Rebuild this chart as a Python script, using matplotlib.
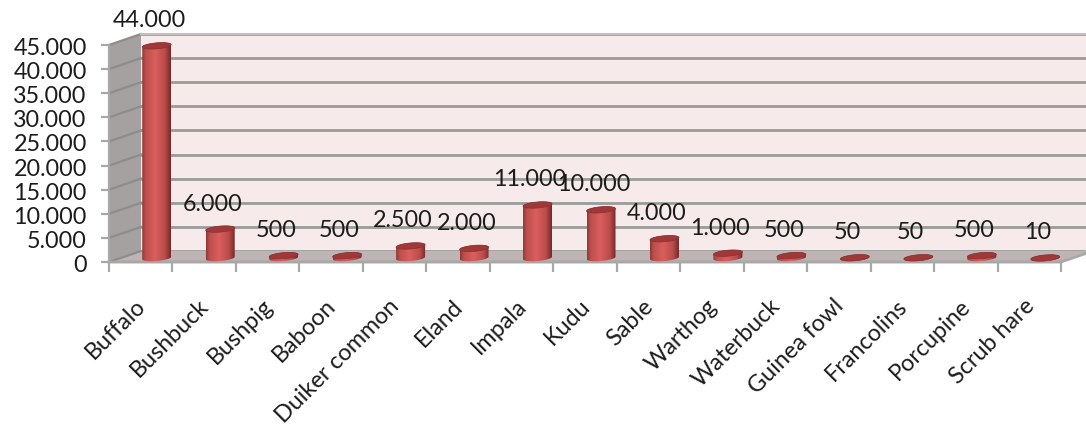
import numpy as np
import matplotlib
matplotlib.use("Agg")
import matplotlib.pyplot as plt
from matplotlib.colors import LinearSegmentedColormap
from matplotlib.patches import Polygon
from matplotlib.ticker import FuncFormatter
from matplotlib.transforms import ScaledTranslation

categories = ["Buffalo", "Bushbuck", "Bushpig", "Baboon", "Duiker common", "Eland", "Impala",
              "Kudu", "Sable", "Warthog", "Waterbuck", "Guinea fowl", "Francolins", "Porcupine", "Scrub hare"]
values = [44000, 6000, 500, 500, 2500, 2000, 11000, 10000, 4000, 1000, 500, 50, 50, 500, 10]
y_ticks = list(range(0, 45001, 5000))

W, H = 1086, 430
plt.rcParams["font.family"] = ["Lato", "DejaVu Sans"]
TXT = "#1c1c1c"
FS = 16.8
GRID = "#9b9b9b"
fig = plt.figure(figsize=(W / 100, H / 100), dpi=100, facecolor="white")


def box(x0, x1, ytop, ybot, **kw):
    return fig.add_axes([x0 / W, 1 - ybot / H, (x1 - x0) / W, (ybot - ytop) / H], **kw)


def fmt(v, _=None):
    return f"{int(v):,}".replace(",", ".")


# background geometry in figure pixels
bg = box(0, W, 0, H)
bg.set_xlim(0, W)
bg.set_ylim(H, 0)
bg.axis("off")
bg.add_patch(Polygon([(141, 34), (1093, 34), (1093, 251), (141, 251)], fc="#f6eaea", ec="none"))
bg.add_patch(Polygon([(109, 45), (141, 34), (141, 251), (109, 262)], fc="#a5a1a1", ec="none"))
bg.add_patch(Polygon([(109, 262), (1061, 262), (1093, 251), (141, 251)], fc="#bfb4b4", ec="none"))

# back wall: same data scale as the front axes, shifted in depth
back = box(141, 1093, 34, 251)
back.patch.set_alpha(0)
back.set_xlim(0, 15)
back.set_ylim(0, 45000)
back.set_xticks([])
back.set_yticks(y_ticks)
back.tick_params(left=False, labelleft=False)
back.grid(axis="y", color=GRID, lw=2.0)
for s in back.spines.values():
    s.set_visible(False)
back.spines["top"].set_visible(True)
back.spines["top"].set_color("#c4c0c0")
back.spines["top"].set_linewidth(1.5)

# slanted grid on side wall
for t in y_ticks:
    yf = 262 - t * 217 / 45000
    bg.plot([109, 141], [yf, yf - 11], color="#8f8c8c", lw=1.6)
bg.plot([109, 1061, 1093], [262, 262, 251], color="#a8a8a8", lw=2, clip_on=True)

# front axis with the real ticks and labels
front = box(109, 1061, 45, 262)
front.patch.set_alpha(0)
front.set_xlim(0, 15)
front.set_ylim(0, 45000)
front.set_yticks(y_ticks)
front.yaxis.set_major_formatter(FuncFormatter(fmt))
front.set_xticks(np.arange(16))
front.set_xticklabels([])
front.set_xticks(np.arange(15) + 0.5, minor=True)
front.set_xticklabels(categories, minor=True, rotation=45, ha="right", va="top",
                      rotation_mode="anchor", fontsize=FS, color=TXT)
front.tick_params(axis="x", which="minor", length=0, pad=24)
front.tick_params(axis="x", which="major", length=7, width=1.6, color="#a8a8a8")
front.tick_params(axis="y", length=6, width=1.6, color="#a8a8a8", labelsize=FS, labelcolor=TXT, pad=10)
shift_x = ScaledTranslation(-6 / 100, 0, fig.dpi_scale_trans)
shift_y = ScaledTranslation(0, -1.5 / 100, fig.dpi_scale_trans)
for lab in front.get_xticklabels(minor=True):
    lab.set_transform(lab.get_transform() + shift_x)
for lab in front.get_yticklabels():
    lab.set_transform(lab.get_transform() + shift_y)
for n, s in front.spines.items():
    s.set_visible(n in ("left", "bottom"))
    s.set_color("#a8a8a8")
    s.set_linewidth(1.6)

# cylinders: same data scale, shifted half way into the depth
bars = box(125, 1077, 41, 258)
bars.patch.set_alpha(0)
bars.axis("off")
bars.set_xlim(0, 15)
bars.set_ylim(0, 45000)
sx = 952 / 15
sy = 217 / 45000
cmap = LinearSegmentedColormap.from_list("cyl", [(0, "#8f3837"), (0.12, "#bd4f4d"), (0.45, "#d95f5d"),
                                                 (0.8, "#bb4c4a"), (1, "#75292a")])
grad = np.linspace(0, 1, 64).reshape(1, -1)
a, b, tilt = 14.5, 3.0, 1.2
tt = np.linspace(0, 2 * np.pi, 73)


def ell(cx, cy, t):
    return np.column_stack([cx + a * np.cos(t) / sx, cy + (b * np.sin(t) + tilt * np.cos(t)) / sy])


for i, v in enumerate(values):
    cx = i + 0.5
    low = ell(cx, 0, np.linspace(np.pi, 2 * np.pi, 37))
    up = ell(cx, v, np.linspace(0, np.pi, 37))
    body = Polygon(np.vstack([low, up]), closed=True, fc="none", ec="none", transform=bars.transData,
                   clip_on=False)
    bars.add_patch(body)
    im = bars.imshow(grad, extent=[cx - a / sx, cx + a / sx, -6 / sy, v + 6 / sy], aspect="auto",
                     cmap=cmap, vmin=0, vmax=1, zorder=2)
    im.set_clip_path(body)
    im.set_clip_box(fig.bbox)
    bars.add_patch(Polygon(ell(cx, v, tt), closed=True, fc="#9f3838", ec="#8a3030", lw=0.5, zorder=3,
                           clip_on=False))
    bars.annotate(fmt(v), (cx, v), xytext=(-5.5, 18), textcoords="offset points", ha="center", va="center",
                  fontsize=FS, color=TXT, zorder=5, annotation_clip=False)
bars.set_xlim(0, 15)
bars.set_ylim(0, 45000)

fig.savefig("out.png", dpi=100, facecolor="white")
